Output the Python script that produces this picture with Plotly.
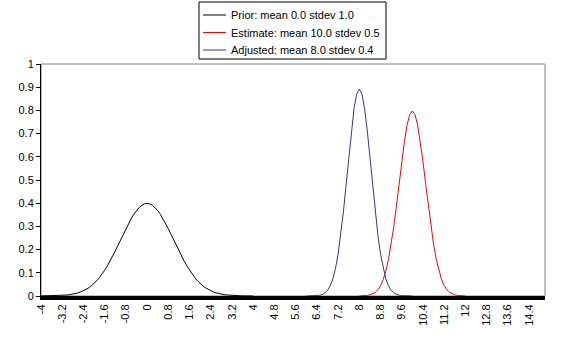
import plotly.graph_objects as go

# Category axis (x values, step 0.1)
x_start, x_end, x_step = -4.0, 15.0, 0.1
x_tick_labels = ["-4", "-3.2", "-2.4", "-1.6", "-0.8", "0", "0.8", "1.6", "2.4", "3.2",
                 "4", "4.8", "5.6", "6.4", "7.2", "8", "8.8", "9.6", "10.4", "11.2",
                 "12", "12.8", "13.6", "14.4"]
y_tick_labels = ["0", "0.1", "0.2", "0.3", "0.4", "0.5", "0.6", "0.7", "0.8", "0.9", "1"]

# Series names
names = ["Prior: mean 0.0 stdev 1.0",
         "Estimate: mean 10.0 stdev 0.5",
         "Adjusted: mean 8.0 stdev 0.4"]

# Prior: x from -4.0 to 4.0
prior_start = -4.0
prior_vals = [0.0001, 0.0002, 0.0003, 0.0004, 0.0006, 0.0009, 0.0012, 0.0017, 0.0024, 0.0033,
              0.0044, 0.0060, 0.0079, 0.0104, 0.0136, 0.0175, 0.0224, 0.0283, 0.0355, 0.0440,
              0.0540, 0.0656, 0.0790, 0.0940, 0.1109, 0.1295, 0.1497, 0.1714, 0.1942, 0.2179,
              0.2420, 0.2661, 0.2897, 0.3123, 0.3332, 0.3521, 0.3683, 0.3814, 0.3910, 0.3970,
              0.3989,
              0.3970, 0.3910, 0.3814, 0.3683, 0.3521, 0.3332, 0.3123, 0.2897, 0.2661, 0.2420,
              0.2179, 0.1942, 0.1714, 0.1497, 0.1295, 0.1109, 0.0940, 0.0790, 0.0656, 0.0540,
              0.0440, 0.0355, 0.0283, 0.0224, 0.0175, 0.0136, 0.0104, 0.0079, 0.0060, 0.0044,
              0.0033, 0.0024, 0.0017, 0.0012, 0.0009, 0.0006, 0.0004, 0.0003, 0.0002, 0.0001]

# Estimate: x from 8.0 to 12.0
estimate_start = 8.0
estimate_vals = [0.0003, 0.0006, 0.0012, 0.0025, 0.0048, 0.0089, 0.0158, 0.0271, 0.0448, 0.0709,
                 0.1080, 0.1579, 0.2218, 0.2995, 0.3884, 0.4839, 0.5794, 0.6664, 0.7366, 0.7820,
                 0.7979,
                 0.7820, 0.7366, 0.6664, 0.5794, 0.4839, 0.3884, 0.2995, 0.2218, 0.1579, 0.1080,
                 0.0709, 0.0448, 0.0271, 0.0158, 0.0089, 0.0048, 0.0025, 0.0012, 0.0006, 0.0003]

# Adjusted: x from 6.0 to 10.0
adjusted_start = 6.0
adjusted_vals = [0.0000, 0.0001, 0.0003, 0.0006, 0.0015, 0.0032, 0.0066, 0.0130, 0.0244, 0.0433,
                 0.0732, 0.1178, 0.1801, 0.2621, 0.3627, 0.4775, 0.5980, 0.7124, 0.8072, 0.8701,
                 0.8921,
                 0.8701, 0.8072, 0.7124, 0.5980, 0.4775, 0.3627, 0.2621, 0.1801, 0.1178, 0.0732,
                 0.0433, 0.0244, 0.0130, 0.0066, 0.0032, 0.0015, 0.0006, 0.0003, 0.0001, 0.0000]

colors = ["#000000", "#FF0000", "#333399"]

# Figure / plot-area geometry (pixels)
W, H = 565, 341
ML, MR, MT, MB = 41, 20, 64, 45
PW, PH = W - ML - MR, H - MT - MB


def xs(start, n):
    return [round(start + i * x_step, 1) for i in range(n)]


def px_x(px):
    return (px - ML) / PW


def px_y(py):
    return (H - MB - py) / PH


fig = go.Figure()
for name, start, vals, col in zip(names,
                                  [prior_start, estimate_start, adjusted_start],
                                  [prior_vals, estimate_vals, adjusted_vals],
                                  colors):
    fig.add_trace(go.Scatter(x=xs(start, len(vals)), y=vals, mode="lines", name=name,
                             line=dict(color=col, width=1), showlegend=False))

tick_vals = [float(t) for t in x_tick_labels]
y_vals = [float(t) for t in y_tick_labels]

font = dict(family="Liberation Sans, Arial, sans-serif", size=11, color="#000000")

# Plot-area border (grey) and a boxed legend like the original
shapes = [dict(type="rect", xref="paper", yref="paper", x0=0, x1=1, y0=0, y1=1,
               line=dict(color="#808080", width=1), layer="below"),
          dict(type="rect", xref="paper", yref="paper",
               x0=px_x(199), x1=px_x(386), y0=px_y(59), y1=px_y(2),
               line=dict(color="#000000", width=1), fillcolor="white", layer="above")]
annotations = []
leg_rows = [15, 32.5, 50]
for name, col, ry in zip(names, colors, leg_rows):
    shapes.append(dict(type="line", xref="paper", yref="paper",
                       x0=px_x(203), x1=px_x(226), y0=px_y(ry), y1=px_y(ry),
                       line=dict(color=col, width=1), layer="above"))
    annotations.append(dict(xref="paper", yref="paper", x=px_x(229), y=px_y(ry),
                            xanchor="left", yanchor="middle", text=name, showarrow=False,
                            font=font))

fig.update_layout(
    width=W, height=H,
    margin=dict(l=ML, r=MR, t=MT, b=MB, autoexpand=False),
    paper_bgcolor="white", plot_bgcolor="white",
    font=font,
    showlegend=False,
    shapes=shapes,
    annotations=annotations,
)
fig.update_xaxes(range=[x_start, x_end], tickmode="array", tickvals=tick_vals,
                 ticktext=x_tick_labels, tickangle=-90, showgrid=False, zeroline=False,
                 showline=True, linecolor="#000000", linewidth=4, ticks="")
fig.update_yaxes(range=[0, 1], tickmode="array", tickvals=y_vals, ticktext=y_tick_labels,
                 showgrid=False, zeroline=False, showline=True, linecolor="#000000",
                 linewidth=1, ticks="outside", ticklen=4, tickcolor="#000000")

fig.write_html("out.html")
